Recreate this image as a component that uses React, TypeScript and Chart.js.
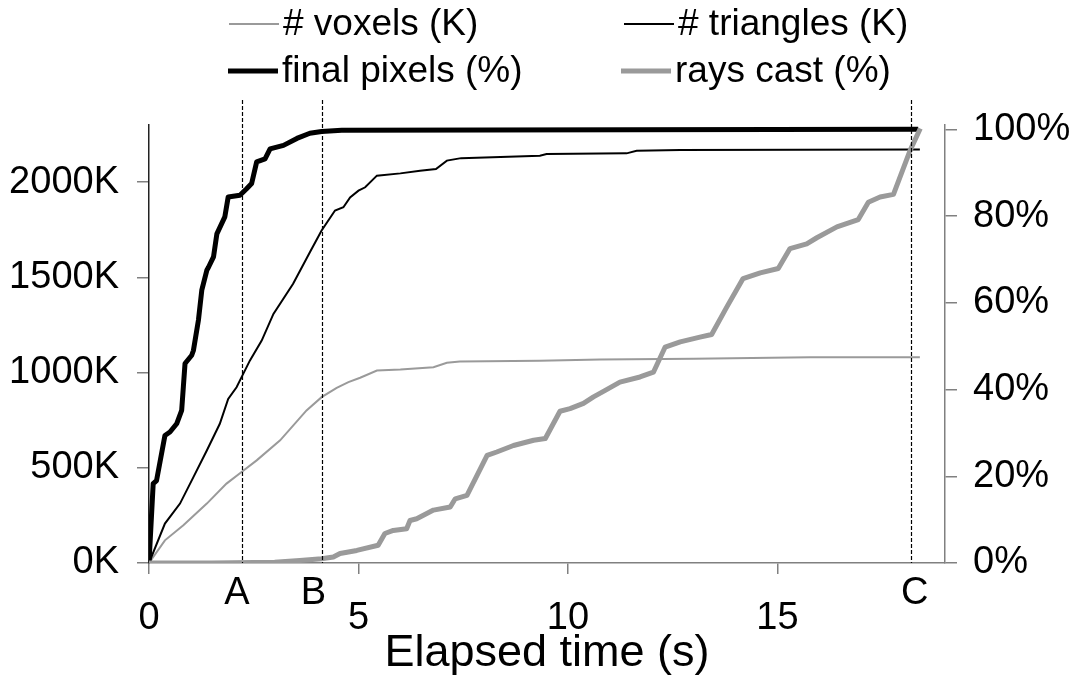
import React, { useEffect, useRef } from 'react';
import { Chart, registerables } from 'chart.js';

Chart.register(...registerables);

const FONT = "'Liberation Sans', Arial, Helvetica, sans-serif";
const GRAY = '#9a9a9a';

// Elapsed time (s) samples and values
const voxelsT = [0, 0.38, 0.82, 1.38, 1.85, 2.21, 2.57, 3.13, 3.76, 4.12, 4.48, 4.76, 5.04, 5.44, 6.0, 6.79, 7.11, 7.42, 9.33, 10.77, 13.0, 15.78, 18.4];
const voxelsK = [0, 119, 198, 312, 417, 478, 539, 644, 801, 871, 920, 950, 973, 1011, 1016, 1028, 1051, 1058, 1062, 1069, 1072, 1081, 1080];

const trianglesT = [0, 0.38, 0.74, 1.06, 1.38, 1.69, 1.89, 2.09, 2.21, 2.41, 2.69, 2.97, 3.44, 3.84, 4.12, 4.44, 4.64, 4.8, 5.0, 5.16, 5.44, 6.0, 6.47, 6.85, 7.11, 7.45, 9.33, 9.49, 11.4, 11.64, 12.68, 18.4];
const trianglesK = [0, 207, 312, 451, 591, 731, 862, 923, 976, 1064, 1168, 1308, 1466, 1632, 1746, 1851, 1868, 1920, 1955, 1973, 2034, 2046, 2060, 2069, 2113, 2126, 2139, 2148, 2151, 2165, 2169, 2172];

const pixelsT = [0, 0.1, 0.18, 0.38, 0.5, 0.66, 0.78, 0.82, 0.86, 1.02, 1.06, 1.18, 1.26, 1.38, 1.42, 1.54, 1.62, 1.81, 1.89, 2.17, 2.33, 2.45, 2.57, 2.77, 2.89, 3.21, 3.53, 3.84, 4.12, 4.6, 18.36];
const pixelsP = [0, 18.3, 19, 29.4, 30.2, 32.1, 35.2, 40.6, 46, 47.9, 49, 56, 62.9, 67.5, 68.2, 70.6, 75.9, 79.8, 84.4, 84.8, 86.3, 87.5, 92.5, 93.2, 95.5, 96.3, 97.9, 99.1, 99.5, 99.8, 100];

const raysT = [0, 1.5, 3.0, 3.6, 4.12, 4.4, 4.56, 4.96, 5.47, 5.63, 5.83, 6.15, 6.23, 6.39, 6.79, 7.19, 7.31, 7.59, 8.07, 8.3, 8.7, 9.18, 9.46, 9.81, 10.05, 10.37, 10.61, 10.89, 11.24, 11.72, 12.04, 12.32, 12.68, 13.15, 13.43, 13.79, 14.18, 14.59, 15.02, 15.3, 15.7, 15.94, 16.42, 16.93, 17.17, 17.45, 17.77, 18.17, 18.41];
const raysP = [0, 0, 0.2, 0.6, 1.0, 1.4, 2.2, 2.9, 4.1, 6.8, 7.5, 7.9, 9.8, 10.2, 12.2, 12.9, 14.8, 15.6, 24.8, 25.6, 27.1, 28.3, 28.7, 35.0, 35.6, 36.8, 38.3, 39.8, 41.7, 42.9, 44.0, 49.8, 51.0, 52.1, 52.7, 59.0, 65.6, 66.9, 67.9, 72.5, 73.6, 75.0, 77.5, 79.2, 83.2, 84.4, 85.0, 95.2, 100.2];

const markerLabels = ['A', 'B', 'C'];
const markerTimes = [2.22, 4.14, 18.18];

const xTicks = [0, 5, 10, 15];
const leftTicks = [0, 500, 1000, 1500, 2000];
const rightTicks = [0, 20, 40, 60, 80, 100];

const seriesNames = ['# voxels (K)', '# triangles (K)', 'final pixels (%)', 'rays cast (%)'];

const toXY = (t: number[], v: number[]) => t.map((x, i) => ({ x, y: v[i] }));

const overlayPlugin = {
  id: 'overlay',
  afterDatasetsDraw(chart: any) {
    const { ctx, scales, chartArea } = chart;
    const xs = scales.x;
    ctx.save();
    ctx.strokeStyle = '#000';
    ctx.lineWidth = 1.2;
    ctx.setLineDash([4, 2]);
    markerTimes.forEach((t) => {
      const px = Math.round(xs.getPixelForValue(t)) + 0.5;
      ctx.beginPath();
      ctx.moveTo(px, 100);
      ctx.lineTo(px, chartArea.bottom);
      ctx.stroke();
    });
    ctx.restore();
  },
  afterDraw(chart: any) {
    const { ctx, scales } = chart;
    const xs = scales.x;
    ctx.save();
    // A / B / C labels
    ctx.fillStyle = '#000';
    ctx.font = `38px ${FONT}`;
    ctx.textAlign = 'center';
    ctx.textBaseline = 'middle';
    const offs = [-5, -9, 4];
    markerTimes.forEach((t, i) => {
      ctx.fillText(markerLabels[i], xs.getPixelForValue(t) + offs[i], 594);
    });
    // legend
    const items = [
      { name: seriesNames[0], color: GRAY, w: 2, x: 229, y: 24 },
      { name: seriesNames[1], color: '#000', w: 2, x: 624, y: 24 },
      { name: seriesNames[2], color: '#000', w: 5, x: 228, y: 71 },
      { name: seriesNames[3], color: GRAY, w: 5, x: 621, y: 71 },
    ];
    ctx.font = `37px ${FONT}`;
    ctx.textAlign = 'left';
    items.forEach((it) => {
      ctx.strokeStyle = it.color;
      ctx.lineWidth = it.w;
      ctx.beginPath();
      ctx.moveTo(it.x, it.y);
      ctx.lineTo(it.x + 50, it.y);
      ctx.stroke();
      ctx.fillText(it.name, it.x + 54, it.y + 1);
    });
    ctx.restore();
  },
};

const keepTicks = (allowed: number[]) => (scale: any) => {
  scale.ticks = allowed.map((v) => ({ value: v }));
};

export default function App() {
  const ref = useRef<HTMLCanvasElement>(null);
  useEffect(() => {
    Chart.defaults.font.family = FONT;
    Chart.defaults.color = '#000';
    const chart = new Chart(ref.current as HTMLCanvasElement, {
      type: 'line',
      data: {
        datasets: [
          { label: seriesNames[3], data: toXY(raysT, raysP), borderColor: GRAY, borderWidth: 5, yAxisID: 'y1', pointRadius: 0, tension: 0, borderJoinStyle: 'round' },
          { label: seriesNames[2], data: toXY(pixelsT, pixelsP), borderColor: '#000', borderWidth: 5, yAxisID: 'y1', pointRadius: 0, tension: 0, borderJoinStyle: 'round' },
          { label: seriesNames[1], data: toXY(trianglesT, trianglesK), borderColor: '#000', borderWidth: 2, yAxisID: 'y', pointRadius: 0, tension: 0 },
          { label: seriesNames[0], data: toXY(voxelsT, voxelsK), borderColor: GRAY, borderWidth: 2, yAxisID: 'y', pointRadius: 0, tension: 0 },
        ] as any,
      },
      options: {
        responsive: false,
        animation: false,
        layout: { padding: { top: 125, left: 0, right: 0, bottom: 0 } },
        plugins: { legend: { display: false }, tooltip: { enabled: false } },
        scales: {
          x: {
            type: 'linear',
            min: 0,
            max: 19,
            afterBuildTicks: keepTicks(xTicks),
            afterFit: (s: any) => { s.height = 118; },
            ticks: { font: { size: 38 }, color: '#000', padding: 22, maxRotation: 0 },
            grid: { drawOnChartArea: false, drawTicks: true, tickLength: 11, color: '#808080', lineWidth: 1.5 },
            border: { display: true, color: '#808080', width: 1.5 },
            title: { display: true, text: 'Elapsed time (s)', font: { size: 45 }, color: '#000', padding: { top: 0, bottom: 0 } },
          },
          y: {
            type: 'linear',
            position: 'left',
            min: 0,
            max: 2300,
            afterBuildTicks: keepTicks(leftTicks),
            afterFit: (s: any) => { s.width = 149; },
            ticks: { font: { size: 38 }, color: '#000', padding: 18, callback: (v: any) => `${v}K` },
            grid: { drawOnChartArea: false, drawTicks: true, tickLength: 12, color: '#808080', lineWidth: 1.5 },
            border: { display: true, color: '#222', width: 1.5 },
          },
          y1: {
            type: 'linear',
            position: 'right',
            min: 0,
            max: 101,
            afterBuildTicks: keepTicks(rightTicks),
            afterFit: (s: any) => { s.width = 130; },
            ticks: { font: { size: 38 }, color: '#000', padding: 16, callback: (v: any) => `${v}%` },
            grid: { drawOnChartArea: false, drawTicks: true, tickLength: 12, color: '#808080', lineWidth: 1.5 },
            border: { display: true, color: '#808080', width: 1.5 },
          },
        },
      } as any,
      plugins: [overlayPlugin],
    });
    return () => chart.destroy();
  }, []);
  return (
    <div style={{ position: 'fixed', left: 0, top: 0, width: 1075, height: 681, background: '#fff' }}>
      <canvas ref={ref} width={1075} height={681} style={{ display: 'block' }} />
    </div>
  );
}
